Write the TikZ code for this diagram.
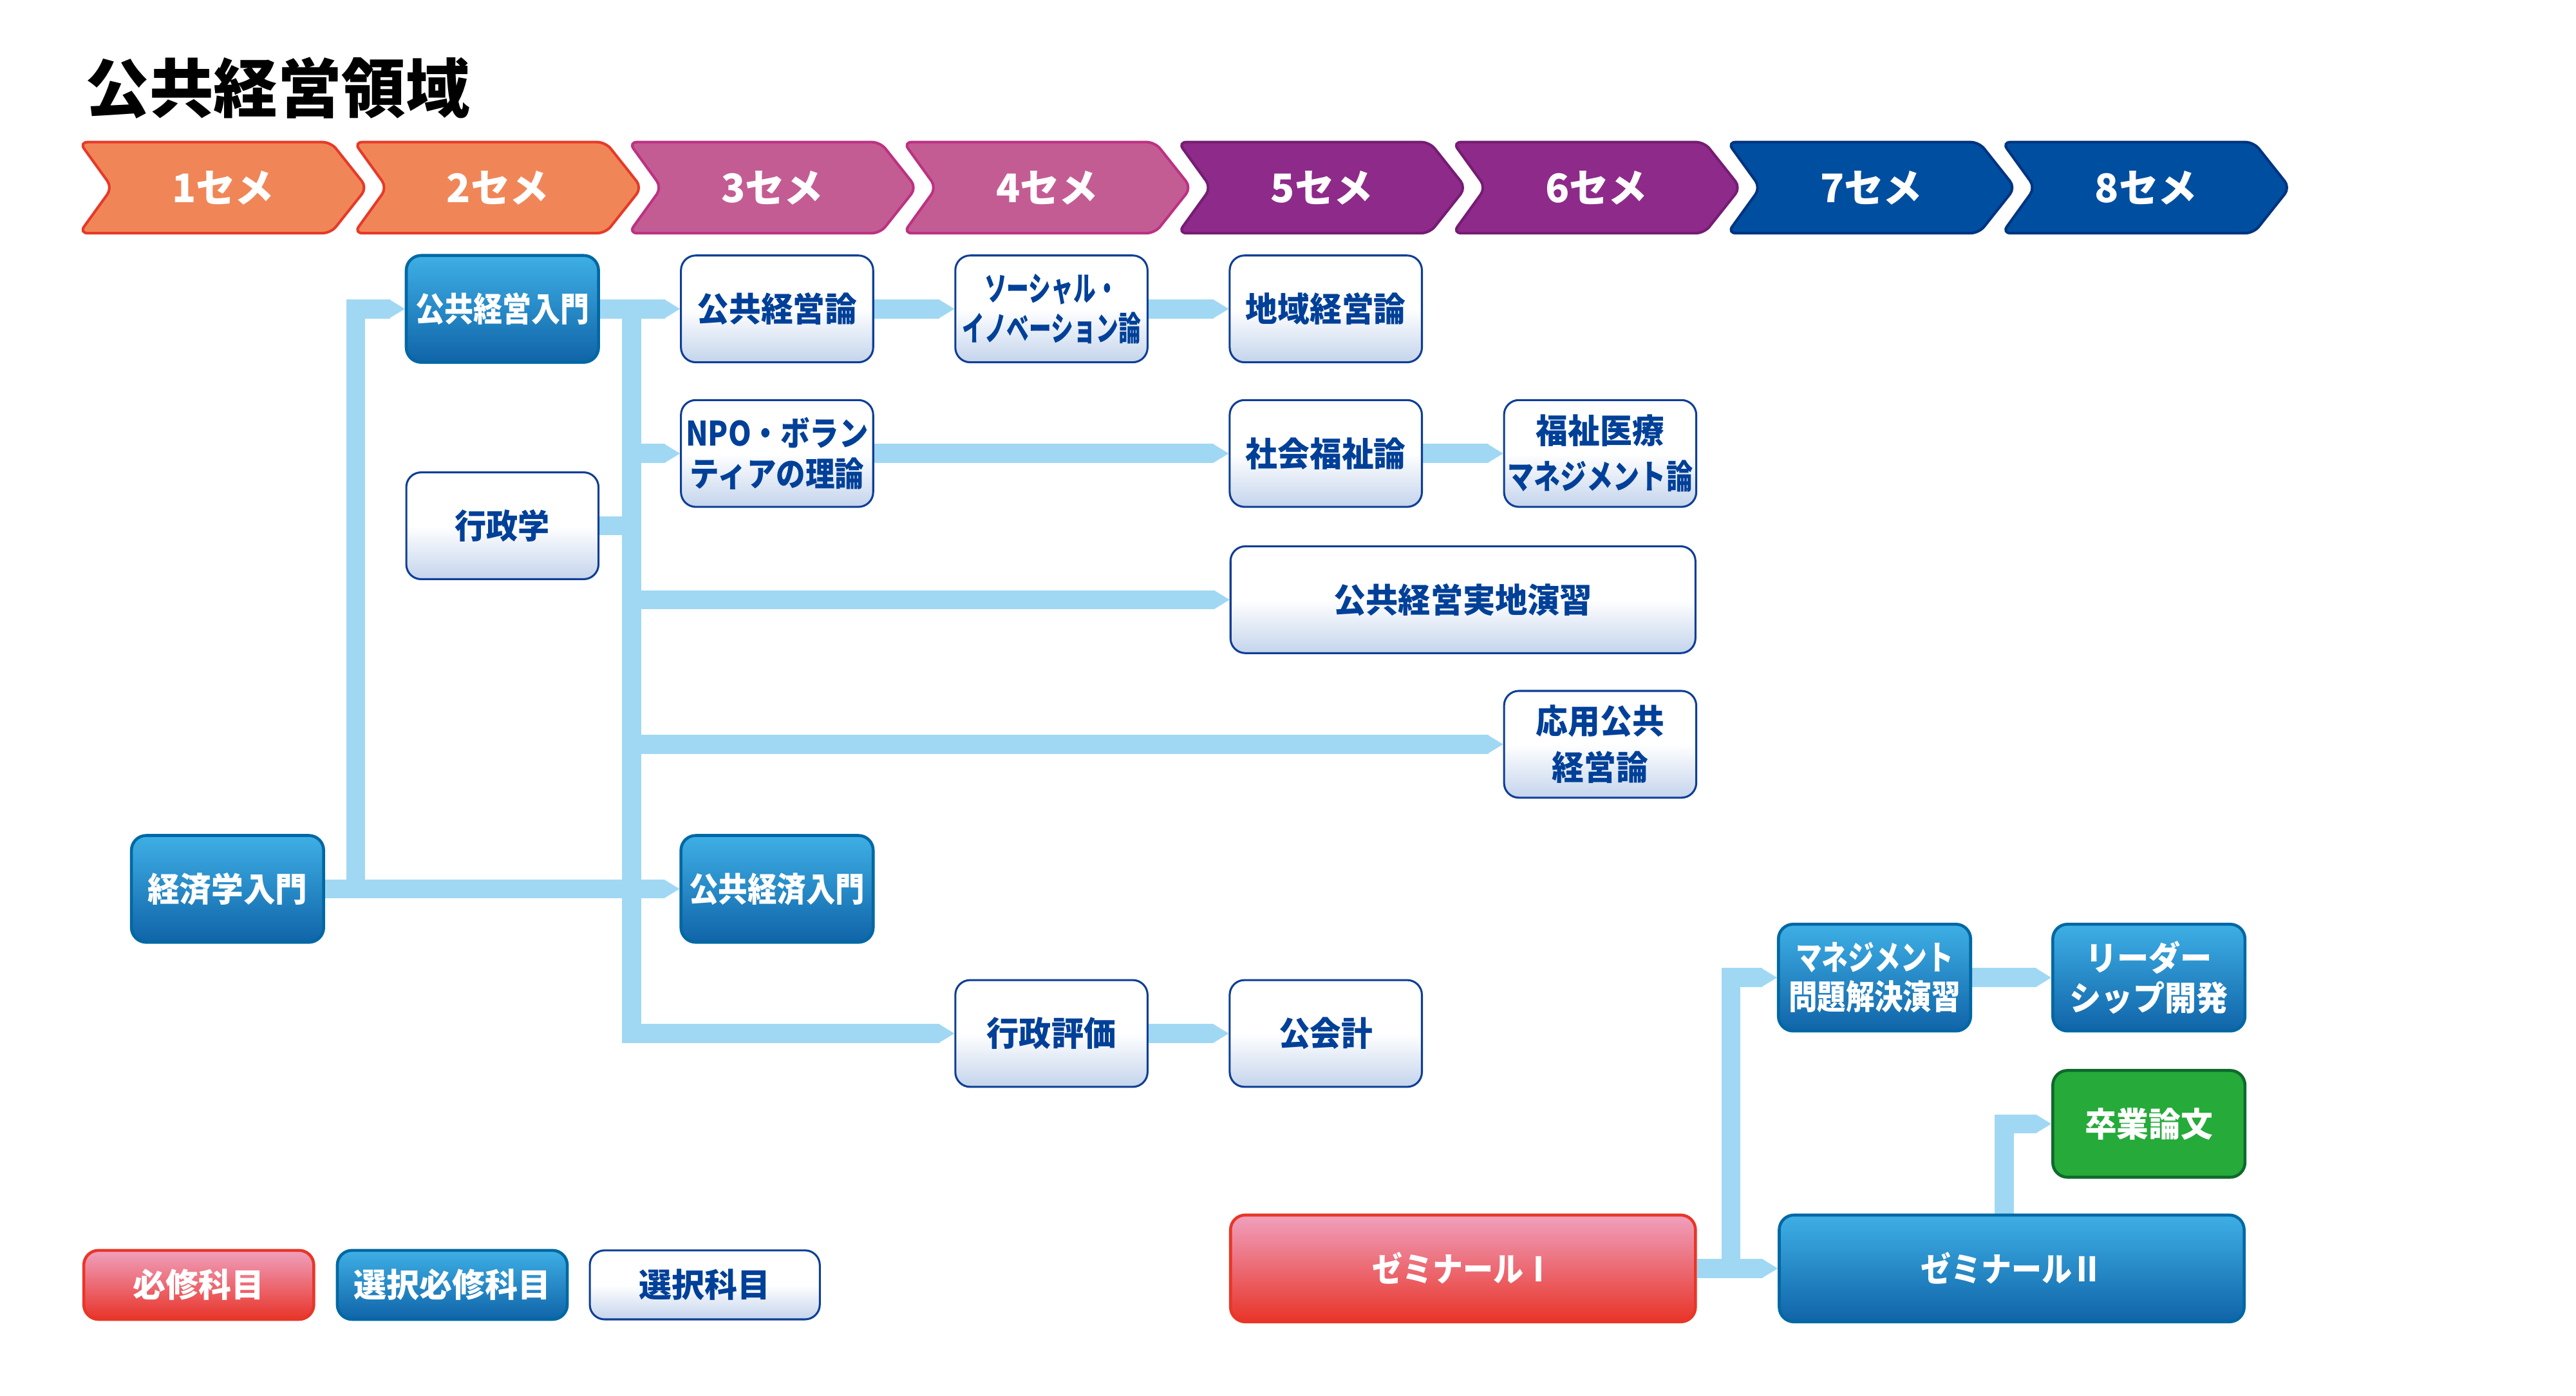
\documentclass[tikz,border=0pt]{standalone}
\usepackage{fontspec}
\setmainfont{Noto Sans CJK JP}
\usepackage{graphicx}
\usetikzlibrary{calc,backgrounds}
\definecolor{barc}{RGB}{160,216,244}
\definecolor{bluetop}{RGB}{62,175,229}
\definecolor{bluebot}{RGB}{16,100,168}
\definecolor{blueedge}{RGB}{0,104,164}
\definecolor{lightbot}{RGB}{196,212,236}
\definecolor{lightedge}{RGB}{14,62,150}
\definecolor{navytext}{RGB}{0,64,152}
\definecolor{redtop}{RGB}{240,160,190}
\definecolor{redbot}{RGB}{232,52,40}
\definecolor{rededge}{RGB}{232,54,40}
\definecolor{greenfill}{RGB}{38,170,58}
\definecolor{greenedge}{RGB}{14,106,44}
\definecolor{sAfill}{RGB}{240,134,88}
\definecolor{sAedge}{RGB}{230,58,40}
\definecolor{sBfill}{RGB}{196,92,148}
\definecolor{sBedge}{RGB}{188,50,130}
\definecolor{sCfill}{RGB}{142,42,138}
\definecolor{sCedge}{RGB}{118,28,116}
\definecolor{sDfill}{RGB}{0,78,160}
\definecolor{sDedge}{RGB}{0,52,128}
\newcommand\hsx[2]{\scalebox{#1}[1]{#2}}
\newcommand\arrtip[1]{\fill[barc] ($(#1.west)+(-9.5,-5.8)$) -- (#1.west) -- ($(#1.west)+(-9.5,5.8)$) -- cycle;}
\tikzset{
  box/.style={rounded corners=4.5pt, minimum width=58.5pt, minimum height=32.5pt, inner sep=0pt,
    align=center, font=\fontsize{10.25pt}{12pt}\selectfont\bfseries, line width=0.6pt},
  selbox/.style={box, draw=lightedge, top color=white, bottom color=lightbot, middle color=white, text=navytext},
  reqsel/.style={box, draw=blueedge, top color=bluetop, bottom color=bluebot, text=white, line width=0.9pt},
  reqbox/.style={box, draw=rededge, top color=redtop, bottom color=redbot, text=white, line width=0.9pt},
  thesis/.style={box, draw=greenedge, fill=greenfill, text=white, line width=0.9pt},
  bar/.style={draw=barc, line width=5.8pt, line join=miter},
  wide/.style={minimum width=141.5pt},
  legend/.style={minimum width=70pt, minimum height=21pt, font=\fontsize{10pt}{12pt}\selectfont\bfseries},
  semlab/.style={text=white, font=\fontsize{12pt}{14pt}\selectfont\bfseries, inner sep=0pt},
  chev/.style={rounded corners=2.5pt, line width=0.8pt},
}
\begin{document}
\begin{tikzpicture}[x=0.5pt,y=-0.5pt]
\path[use as bounding box] (0,0) rectangle (1568,849.6);

% title
\node[anchor=west, inner sep=0pt, font=\fontsize{19.5pt}{22pt}\selectfont\bfseries] (title) at (51.6,53.5) {公共経営領域};

% semester chevrons
\foreach \n/\f/\e in {1/sAfill/sAedge,2/sAfill/sAedge,3/sBfill/sBedge,4/sBfill/sBedge,5/sCfill/sCedge,6/sCfill/sCedge,7/sDfill/sDedge,8/sDfill/sDedge}{
  \pgfmathsetmacro\L{48.3+167.2*(\n-1)}
  \pgfmathsetmacro\R{\L+175.1}
  \draw[chev, fill=\f, draw=\e] (\L,86.5) -- (\R-22,86.5) -- (\R,114.2) -- (\R-22,141.9) -- (\L,141.9) -- (\L+20,114.2) -- cycle;
  \node[semlab] (sem\n) at (\L+87.5,114.2) {\n セメ};
}

% course nodes
\node[reqsel] (keizai) at (138.5,541) {\hsx{0.95}{経済学入門}};
\node[reqsel] (kkn) at (305.8,188) {\hsx{0.86}{公共経営入門}};
\node[selbox] (gyosei) at (305.8,320) {\hsx{0.94}{行政学}};
\node[selbox] (kkr) at (473,188) {\hsx{0.95}{公共経営論}};
\node[selbox, font=\fontsize{10.25pt}{12.5pt}\selectfont\bfseries] (npo) at (473,276) {\hsx{0.87}{NPO・ボラン}\\\hsx{0.87}{ティアの理論}};
\node[reqsel] (kkz) at (473,541) {\hsx{0.87}{公共経済入門}};
\node[selbox] (social) at (640,188) {\hsx{0.665}{ソーシャル・}\\\hsx{0.665}{イノベーション論}};
\node[selbox] (gyohyo) at (640,629) {\hsx{0.96}{行政評価}};
\node[selbox] (chiiki) at (807,188) {\hsx{0.95}{地域経営論}};
\node[selbox] (shafuku) at (807,276) {\hsx{0.95}{社会福祉論}};
\node[selbox, wide] (jicchi) at (890.5,365) {\hsx{0.96}{公共経営実地演習}};
\node[selbox] (kaikei) at (807,629) {\hsx{0.93}{公会計}};
\node[selbox, font=\fontsize{10.25pt}{14pt}\selectfont\bfseries] (iryo) at (974,276) {\hsx{0.95}{福祉医療}\\\hsx{0.785}{マネジメント論}};
\node[selbox, font=\fontsize{10.25pt}{14pt}\selectfont\bfseries] (ouyou) at (974,453) {\hsx{0.95}{応用公共}\\\hsx{0.95}{経営論}};
\node[reqbox, wide] (zemi1) at (890.5,772) {\hsx{0.9}{ゼミナールⅠ}};
\node[reqsel] (mgmt) at (1141,595) {\hsx{0.78}{マネジメント}\\\hsx{0.85}{問題解決演習}};
\node[reqsel] (leader) at (1308,595) {\hsx{0.94}{リーダー}\\\hsx{0.94}{シップ開発}};
\node[thesis] (sotsu) at (1308,684) {\hsx{0.95}{卒業論文}};
\node[reqsel, wide] (zemi2) at (1224.5,772) {\hsx{0.9}{ゼミナールⅡ}};

% legend
\node[reqbox, legend] (leg1) at (121,782) {必修科目};
\node[reqsel, legend] (leg2) at (275.3,782) {選択必修科目};
\node[selbox, legend] (leg3) at (429,782) {選択科目};

% connectors
\begin{scope}[on background layer]
\fill[white] (0,0) rectangle (1568,849.6);
\coordinate (j1) at ($(keizai.east)+(18.7,0)$);
\coordinate (bt) at ($(kkn.east)+(19.3,0)$);
\coordinate (bb) at (bt |- gyohyo.west);
\coordinate (j2) at ($(zemi1.east)+(20.7,0)$);
\coordinate (j3) at ($(zemi2.north)+(-4.5,0)$);

\draw[bar] (keizai.east) -- ($(kkz.west)+(-9,0)$); \arrtip{kkz}
\draw[bar] (j1) |- ($(kkn.west)+(-9,0)$); \arrtip{kkn}
\draw[bar] (kkn.east) -- ($(kkr.west)+(-9,0)$); \arrtip{kkr}
\draw[bar] (bt) -- (bb) -- ($(gyohyo.west)+(-9,0)$); \arrtip{gyohyo}
\draw[bar] (bt |- npo.west) -- ($(npo.west)+(-9,0)$); \arrtip{npo}
\draw[bar] (gyosei.east) -- (bt |- gyosei.east);
\draw[bar] (bt |- jicchi.west) -- ($(jicchi.west)+(-9,0)$); \arrtip{jicchi}
\draw[bar] (bt |- ouyou.west) -- ($(ouyou.west)+(-9,0)$); \arrtip{ouyou}
\draw[bar] (kkr.east) -- ($(social.west)+(-9,0)$); \arrtip{social}
\draw[bar] (social.east) -- ($(chiiki.west)+(-9,0)$); \arrtip{chiiki}
\draw[bar] (npo.east) -- ($(shafuku.west)+(-9,0)$); \arrtip{shafuku}
\draw[bar] (shafuku.east) -- ($(iryo.west)+(-9,0)$); \arrtip{iryo}
\draw[bar] (gyohyo.east) -- ($(kaikei.west)+(-9,0)$); \arrtip{kaikei}
\draw[bar] (mgmt.east) -- ($(leader.west)+(-9,0)$); \arrtip{leader}
\draw[bar] (zemi1.east) -- ($(zemi2.west)+(-9,0)$); \arrtip{zemi2}
\draw[bar] (j2) |- ($(mgmt.west)+(-9,0)$); \arrtip{mgmt}
\draw[bar] (j3) |- ($(sotsu.west)+(-9,0)$); \arrtip{sotsu}
\end{scope}
\end{tikzpicture}
\end{document}
